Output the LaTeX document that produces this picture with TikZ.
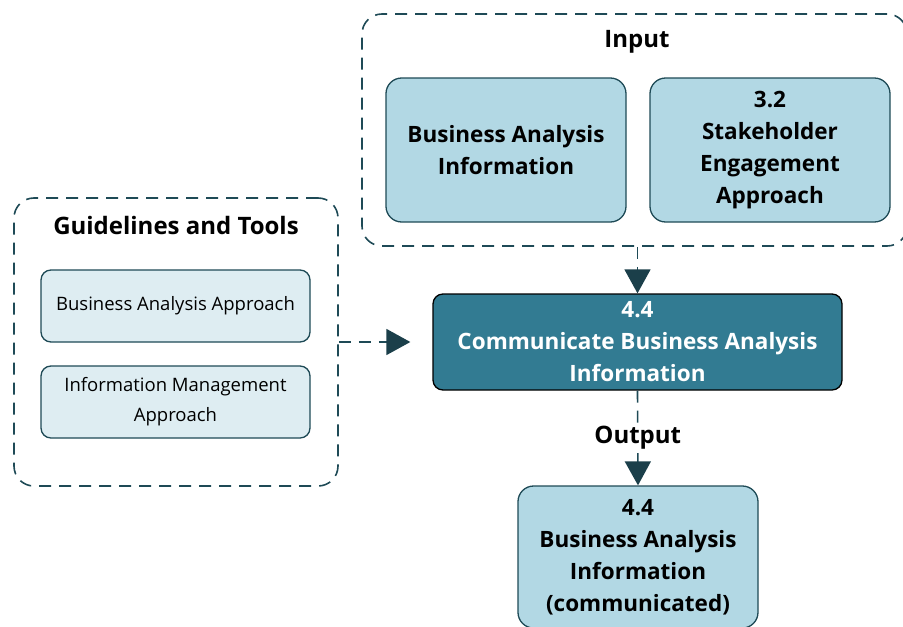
\documentclass[tikz,border=0pt]{standalone}
\usepackage{fontspec}
\setmainfont{Open Sans}
\usepackage{tikz}
\usetikzlibrary{arrows.meta, positioning}
\definecolor{edgecolor}{HTML}{1E4A56}
\definecolor{tipcolor}{HTML}{1B3F4A}
\newcommand{\inputcolor}{boxblue}
\definecolor{boxblue}{HTML}{B2D8E4}
\definecolor{paleblue}{HTML}{DEEDF2}
\definecolor{taskteal}{HTML}{327B92}

\begin{document}
\begin{tikzpicture}[
      % GLOBAL CFG
      x=1pt, y=-1pt,
      font=\fontsize{22.5}{32}\selectfont\bfseries,
      % Styles
      group/.style={% For the dashed groups
        rectangle,
        rounded corners=7mm,
        draw=edgecolor,
        line width=1.6pt,
        dash pattern=on 12pt off 8pt
      },
      title/.style={% For group titles
        font=\fontsize{24}{30}\selectfont\bfseries,
        inner sep=1pt
      },
      item/.style={% For inputs and outputs
        rectangle,
        rounded corners=5.5mm,
        draw=edgecolor,
        line width=1.3pt,
        fill=\inputcolor,
        align=center,
        minimum width=240pt,
        minimum height=144pt
      },
      guideline/.style={% For guidelines and tools
        rectangle,
        rounded corners=3.5mm,
        draw=edgecolor,
        line width=1.3pt,
        fill=paleblue,
        align=center,
        font=\fontsize{18.5}{30}\selectfont,
        minimum width=269pt,
        minimum height=72pt
      },
      task/.style={% For the task
        rectangle,
        rounded corners=3.5mm,
        draw=black,
        line width=1.3pt,
        fill=taskteal,
        text=white,
        align=center,
        minimum width=409pt,
        minimum height=96pt
      },
      flow/.style={% Dashed arrows
        draw=edgecolor,
        line width=1.6pt,
        dash pattern=on 12pt off 8pt,
        -{Triangle[width=26pt,length=24pt,color=tipcolor]}
      }
      ]

      \useasboundingbox (0,0) rectangle (903,627);

      % Input group
      \node [group, minimum width=545pt, minimum height=232pt] (input) at (634.5,130) {};
      \node [title] (inputtitle) at (637,42) {Input};
      \node [item] (bai) at (506,150) {Business Analysis\\Information};
      \node [item] (stake) at (770,150) {3.2\\Stakeholder\\Engagement\\Approach};

      % Guidelines and tools
      \node [group, minimum width=324pt, minimum height=288pt] (guide) at (176,342) {};
      \node [title] (guidetitle) at (176,225) {Guidelines and Tools};
      \node [guideline] (baa) at (175.5,306) {Business Analysis Approach};
      \node [guideline] (ima) at (175.5,402) {Information Management\\Approach};

      % Task and output
      \node [task] (task) at (637.5,342) {4.4\\Communicate Business Analysis\\Information};
      \node [item, minimum height=142pt] (output) at (638,557) {4.4\\Business Analysis\\Information\\(communicated)};

      \draw [flow] (input.south -| task.north) -- (task.north);
      \draw [flow, shorten >=22pt] (guide.east) -- (task.west);
      \draw [flow] (task.south) -- node [title, fill=white, inner sep=3pt] (outputtitle) {Output} (output.north);

    \end{tikzpicture}
\end{document}
